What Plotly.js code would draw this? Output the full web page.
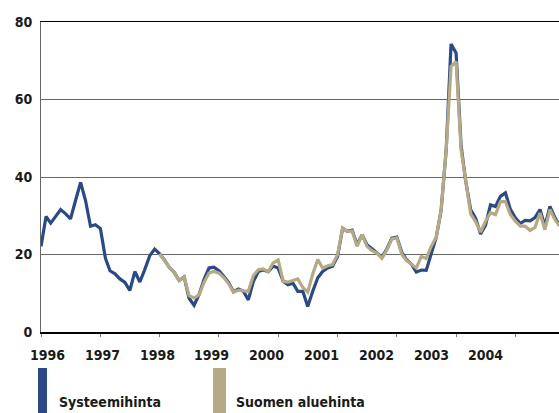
<!DOCTYPE html>
<html>
<head>
<meta charset="utf-8">
<script src="https://cdn.plot.ly/plotly-3.0.1.min.js"></script>
<style>
html,body{margin:0;padding:0;background:#fff;}
#chart{width:559px;height:413px;}
</style>
</head>
<body>
<div id="chart"></div>
<script>
// Monthly values, EUR/MWh
const systeemiStart = [1996, 1];
const systeemihinta = [
  22.1, 29.8, 28.1, 30.0, 31.6, 30.5, 29.2, 34.0, 38.6, 34.0, 27.3, 27.7, // 1996
  26.7, 19.0, 15.8, 15.0, 13.7, 12.8, 10.7, 15.6, 12.9, 16.1, 19.7, 21.4, // 1997
  20.2, 18.5, 16.7, 15.4, 13.3, 14.2, 8.7, 6.9, 9.7, 13.5, 16.5, 16.7,    // 1998
  15.8, 14.3, 12.8, 10.4, 11.1, 10.5, 8.3, 13.0, 15.6, 16.0, 15.6, 17.0,  // 1999
  16.5, 13.1, 12.2, 12.6, 10.5, 10.5, 6.6, 10.5, 14.0, 15.6, 16.5, 17.0,  // 2000
  19.5, 26.8, 26.0, 26.3, 22.5, 25.1, 22.5, 21.5, 20.5, 19.3, 21.5, 24.2, // 2001
  24.5, 20.5, 18.7, 17.5, 15.5, 16.0, 15.9, 20.5, 24.5, 31.5, 47.0, 74.3, // 2002
  72.0, 48.0, 39.0, 31.5, 29.4, 25.3, 27.5, 32.8, 32.4, 35.0, 35.9, 31.7, // 2003
  29.5, 28.0, 28.8, 28.7, 29.5, 31.6, 27.3, 32.4, 29.5, 27.5              // 2004
];
const aluehintaStart = [1998, 1];
const suomenAluehinta = [
  20.2, 18.5, 16.7, 15.4, 13.3, 14.2, 9.4, 8.8, 9.6, 12.8, 15.2, 15.6,    // 1998
  15.2, 14.0, 12.5, 10.3, 10.8, 10.6, 10.5, 14.5, 16.1, 16.3, 15.6, 17.8, // 1999
  18.6, 13.1, 12.9, 13.3, 13.7, 11.5, 10.3, 15.0, 18.7, 16.5, 17.1, 17.4, // 2000
  20.0, 26.8, 26.0, 26.1, 22.1, 25.1, 22.1, 21.0, 20.3, 19.0, 21.2, 24.0, // 2001
  24.3, 20.0, 18.5, 17.5, 16.5, 19.5, 19.0, 22.1, 24.5, 31.5, 47.0, 68.5, // 2002
  69.8, 47.0, 38.5, 30.5, 28.5, 25.8, 28.5, 30.8, 30.3, 33.6, 33.7, 30.3, // 2003
  28.6, 27.3, 27.3, 26.2, 27.0, 30.7, 26.4, 31.6, 29.0, 27.3              // 2004
];
const yearLabels = ['1996','1997','1998','1999','2000','2001','2002','2003','2004'];
const yearTicks = ['1996-01-01','1997-01-01','1998-01-01','1999-01-01','2000-01-01','2001-01-01','2002-01-01','2003-01-01','2004-01-01'];
const seriesNames = ['Systeemihinta', 'Suomen aluehinta'];

function monthDates(start, n) {
  const out = [];
  let y = start[0], m = start[1];
  for (let i = 0; i < n; i++) {
    out.push(y + '-' + String(m).padStart(2, '0') + '-01');
    m++; if (m > 12) { m = 1; y++; }
  }
  return out;
}

const BLUE = '#2b4a85';
const TAN = '#b6a985';
const FONT = '"DejaVu Sans Condensed", "Liberation Sans Narrow", "Open Sans", sans-serif';

const W = 559, H = 413, L = 41, T = 22, B = 332;
const pw = W - L, ph = B - T;
const px = v => (v - L) / pw;
const py = v => (B - v) / ph;

const traces = [
  {x: monthDates(systeemiStart, systeemihinta.length), y: systeemihinta, type: 'scatter', mode: 'lines',
   line: {color: BLUE, width: 3.2}, name: seriesNames[0]},
  {x: monthDates(aluehintaStart, suomenAluehinta.length), y: suomenAluehinta, type: 'scatter', mode: 'lines',
   line: {color: TAN, width: 3.2}, name: seriesNames[1]}
];

const annotations = yearLabels.map((t, i) => ({
  text: '<b>' + t + '</b>', xref: 'paper', yref: 'paper',
  x: px(47.5 + 54.8 * i), y: py(355), xanchor: 'center', yanchor: 'middle',
  showarrow: false, font: {family: FONT, size: 14, color: '#1a1a1a'}
}));
annotations.push({text: '<b>' + seriesNames[0] + '</b>', xref: 'paper', yref: 'paper',
  x: px(57), y: py(402), xanchor: 'left', yanchor: 'middle', showarrow: false,
  font: {family: FONT, size: 14, color: '#1a1a1a'}});
annotations.push({text: '<b>' + seriesNames[1] + '</b>', xref: 'paper', yref: 'paper',
  x: px(234), y: py(402), xanchor: 'left', yanchor: 'middle', showarrow: false,
  font: {family: FONT, size: 14, color: '#1a1a1a'}});

const shapes = [
  {type: 'rect', xref: 'paper', yref: 'paper', x0: px(38), x1: px(47), y0: py(368), y1: py(413),
   fillcolor: BLUE, line: {width: 0}},
  {type: 'rect', xref: 'paper', yref: 'paper', x0: px(213), x1: px(226), y0: py(368), y1: py(413),
   fillcolor: TAN, line: {width: 0}}
];

const layout = {
  width: W, height: H,
  margin: {l: L, r: 0, t: T, b: H - B, pad: 0},
  paper_bgcolor: '#fff', plot_bgcolor: '#fff',
  showlegend: false,
  xaxis: {
    type: 'date', range: ['1996-01-01', '2004-09-26'],
    tickmode: 'array', tickvals: yearTicks, ticktext: yearTicks.map(() => ''),
    ticks: 'outside', ticklen: 3, tickcolor: '#777', tickwidth: 1,
    showgrid: false, zeroline: false,
    showline: true, linecolor: '#000', linewidth: 1.5, mirror: true
  },
  yaxis: {
    range: [0, 80], tickvals: [0, 20, 40, 60, 80],
    showgrid: true, gridcolor: '#666', gridwidth: 1,
    zeroline: false, showline: true, linecolor: '#666', linewidth: 1,
    ticks: '', ticklabelstandoff: 5,
    tickfont: {family: FONT, size: 14, color: '#1a1a1a', weight: 'bold'}
  },
  annotations: annotations,
  shapes: shapes
};

Plotly.newPlot('chart', traces, layout, {staticPlot: true, displayModeBar: false});
</script>
</body>
</html>
